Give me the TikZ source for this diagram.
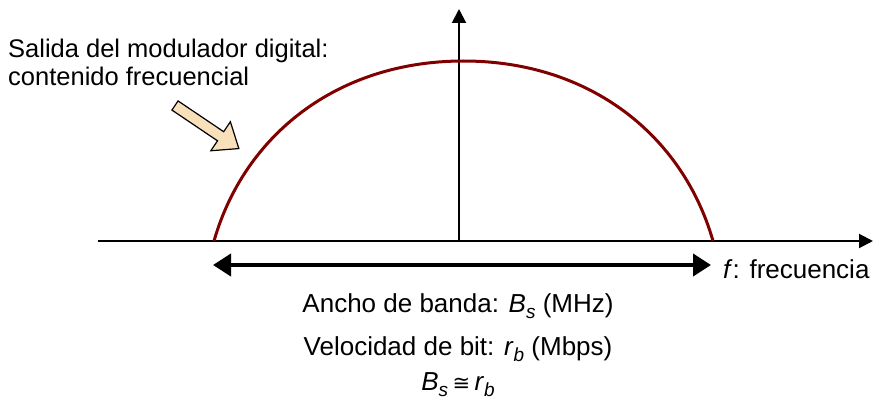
\documentclass[tikz,border=0pt]{standalone}
\usepackage{fontspec}
\setmainfont{Liberation Sans}
\newfontfamily\djv{DejaVu Sans}
\usetikzlibrary{arrows.meta}
\definecolor{curvered}{RGB}{128,0,0}
\definecolor{peach}{RGB}{248,224,186}
\newcommand{\mysub}[1]{\raisebox{-6pt}{\fontsize{19}{20}\selectfont\textit{#1}}}
\tikzset{
  axisline/.style={line width=2pt, -{Triangle[length=14pt,width=14pt]}},
  bwarrow/.style={line width=4pt, {Triangle[length=18pt,width=22pt]}-{Triangle[length=18pt,width=22pt]}},
  spectrum/.style={line width=3pt, curvered},
  bigtext/.style={font=\fontsize{26}{31}\selectfont, inner sep=0pt},
  toptext/.style={font=\fontsize{25.5}{30}\selectfont, inner sep=0pt, align=left},
  blockarrow/.style={draw=black, line width=1.2pt, fill=peach, line join=miter}
}
\begin{document}
\begin{tikzpicture}[x=1pt,y=-1pt]
\useasboundingbox (0,0) rectangle (873,401);
% axes
\coordinate (xs) at (98,241);
\coordinate (xe) at (873,241);
\coordinate (ys) at (459,241);
\coordinate (ye) at (459,9);
\draw[axisline] (xs) -- (xe);
\draw[axisline] (ys) -- (ye);
% spectrum
\coordinate (sl) at (214,241);
\coordinate (sp) at (463.5,61);
\coordinate (sr) at (713,241);
\draw[spectrum] (sl) .. controls (244,136) and (336.5,61) .. (sp)
                     .. controls (590.5,61) and (683,136) .. (sr);
% bandwidth arrow
\coordinate (bl) at (213,265);
\coordinate (br) at (711,265);
\draw[bwarrow] (bl) -- (br);
% labels
\node[bigtext, anchor=base west] (flab) at (723,278) {\textit{f}: frecuencia};
\node[bigtext, anchor=base] (l1) at (458,312) {Ancho de banda: \textit{B}\mysub{s} (MHz)};
\node[bigtext, anchor=base] (l2) at (458,355) {Velocidad de bit: \textit{r}\mysub{b} (Mbps)};
\node[bigtext, anchor=base] (l3) at (458,390) {\textit{B}\mysub{s}\,{\djv\fontsize{21}{26}\selectfont ≅}\,\textit{r}\mysub{b}};
\node[toptext, anchor=base west] (t1) at (8,58) {Salida del modulador digital:};
\node[toptext, anchor=base west] (t2) at (8,86) {contenido frecuencial};
% block arrow
\begin{scope}[shift={(175,105.5)}, rotate=-34]
\draw[blockarrow] (0,-5.5) -- (55,-5.5) -- (55,-17.5) -- (77,0) -- (55,17.5) -- (55,5.5) -- (0,5.5) -- cycle;
\end{scope}
\end{tikzpicture}
\end{document}
